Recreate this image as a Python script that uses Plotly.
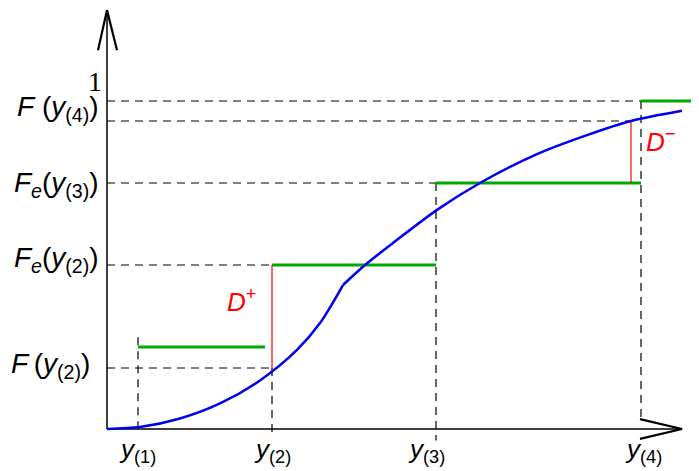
import plotly.graph_objects as go

# ---- data ----
obs_x = [0.31, 1.65, 3.29, 5.34]          # y(1)..y(4)
ecdf = [0.25, 0.5, 0.75, 1.0]             # Fe levels
green_end = [1.58, 3.29, 5.34, 5.92]      # end of each ecdf step
cdf_lo_x = [0, 0.33, 0.73, 1.13, 1.53, 1.90, 2.13, 2.36]
cdf_lo_y = [0, 0.006, 0.032, 0.078, 0.148, 0.241, 0.323, 0.439]
cdf_hi_x = [2.36, 2.58, 2.86, 3.30, 3.73, 4.30, 4.80, 5.24, 5.75]
cdf_hi_y = [0.439, 0.500, 0.567, 0.668, 0.750, 0.838, 0.896, 0.939, 0.970]
F_y2 = 0.186
F_y4 = 0.939
dminus_x = 5.24
x_labels = ["<i>y</i><sub>(1)</sub>", "<i>y</i><sub>(2)</sub>", "<i>y</i><sub>(3)</sub>", "<i>y</i><sub>(4)</sub>"]
x_label_pos = [0.30, 1.65, 3.19, 5.36]

# axes extents
x_axis_end = 5.75
y_axis_end = 1.277

fig = go.Figure()

def seg(xs, ys, color, width, dash=None, shape="linear", smoothing=None):
    line = dict(color=color, width=width, dash=dash, shape=shape)
    if smoothing is not None:
        line["smoothing"] = smoothing
    fig.add_trace(go.Scatter(x=xs, y=ys, mode="lines", hoverinfo="skip", line=line))

DASH = "8px,6px"
# dashed horizontals
hx, hy = [], []
for lvl, xe in [(ecdf[3], obs_x[3]), (F_y4, dminus_x), (ecdf[2], obs_x[2]), (ecdf[1], obs_x[1]), (F_y2, obs_x[1])]:
    hx += [0, xe, None]; hy += [lvl, lvl, None]
seg(hx, hy, "black", 1.2, DASH)
# dashed verticals
vx, vy = [], []
for xv, top, bot in [(obs_x[0], ecdf[0] + 0.03, 0), (obs_x[1], F_y2, -0.01),
                     (obs_x[2], ecdf[2], -0.035), (obs_x[3], ecdf[3], 0.035)]:
    vx += [xv, xv, None]; vy += [top, bot, None]
seg(vx, vy, "black", 1.2, DASH)

# axes
seg([0, 0], [0, y_axis_end], "black", 1.5)
seg([0, x_axis_end], [0, 0], "black", 1.5)
seg([-0.09, 0, 0.10], [y_axis_end - 0.122, y_axis_end, y_axis_end - 0.122], "black", 2.2)
seg([x_axis_end - 0.42, x_axis_end, x_axis_end - 0.42], [0.03, 0, -0.03], "black", 2.2)

# ecdf steps
gx, gy = [], []
for i in range(4):
    gx += [obs_x[i], green_end[i], None]; gy += [ecdf[i], ecdf[i], None]
seg(gx, gy, "#00aa00", 3)

# D+ and D-
seg([obs_x[1], obs_x[1], None, dminus_x, dminus_x], [F_y2, ecdf[1], None, ecdf[2], F_y4], "red", 1.2)

# cdf (two smooth pieces meeting at a kink)
seg(cdf_lo_x, cdf_lo_y, "#0000ee", 2.5, shape="spline", smoothing=0.8)
seg(cdf_hi_x, cdf_hi_y, "#0000ee", 2.5, shape="spline", smoothing=0.8)

SANS = "Liberation Sans, Arial, sans-serif"
FONT = dict(family=SANS, size=28, color="black")
ann = []
def txt(x, y, s, xanchor="center", font=FONT):
    ann.append(dict(x=x, y=y, xref="x", yref="y", text=s, showarrow=False,
                    xanchor=xanchor, yanchor="middle", font=font))

txt(-0.06, 0.976, "<i>F</i> (<i>y</i><sub>(4)</sub>)", "right")
txt(-0.12, 1.06, "1", "center", dict(family="Liberation Serif, Times New Roman, serif", size=28, color="black"))
txt(-0.06, 0.744, "<i>F<sub>e</sub></i>(<i>y</i><sub>(3)</sub>)", "right")
txt(-0.06, 0.518, "<i>F<sub>e</sub></i>(<i>y</i><sub>(2)</sub>)", "right")
txt(-0.15, 0.195, "<i>F</i>&#8201;(<i>y</i><sub>(2)</sub>)", "right")
txt(1.34, 0.393, "<i>D</i><sup>+</sup>", "center", dict(family=SANS, size=26, color="red"))
txt(5.53, 0.881, "<i>D</i><sup>−</sup>", "center", dict(family=SANS, size=26, color="red"))
for xv, lab in zip(x_label_pos, x_labels):
    txt(xv, -0.067, lab, "center", dict(family=SANS, size=26, color="black"))

# the page body has an 8px margin: size the figure to the visible area
fig.update_layout(
    width=691, height=463, margin=dict(l=0, r=0, t=0, b=0),
    paper_bgcolor="white", plot_bgcolor="white", showlegend=False,
    xaxis=dict(range=[-0.99, 5.92], visible=False),
    yaxis=dict(range=[-0.128, 1.2835], visible=False),
    annotations=ann,
)
fig.write_html("out.html")
